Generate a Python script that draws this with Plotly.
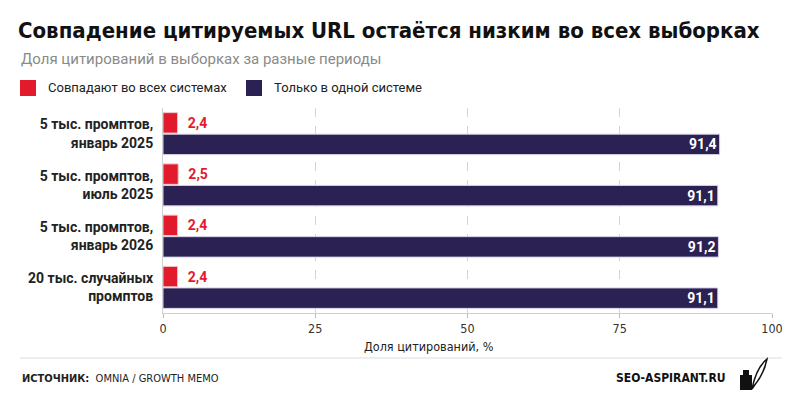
import plotly.graph_objects as go

# data
categories = ["5 тыс. промптов,<br>январь 2025", "5 тыс. промптов,<br>июль 2025",
              "5 тыс. промптов,<br>январь 2026", "20 тыс. случайных<br>промптов"]
match_all = [2.4, 2.5, 2.4, 2.4]
only_one = [91.4, 91.1, 91.2, 91.1]
series_names = ["Совпадают во всех системах", "Только в одной системе"]
x_ticks = [0, 25, 50, 75, 100]

RED = "#e21b2c"
NAVY = "#2b2152"
W, H = 800, 400
ML, MR, MT, MB = 163, 28, 108, 87
PW, PH = W - ML - MR, H - MT - MB
NARROW = "DejaVu Sans Condensed"
BASE = "Roboto"


def px(x):
    return (x - ML) / PW


def py(y):
    return 1 - (y - MT) / PH


def fmt(v):
    return f"{v:.1f}".replace(".", ",")


fig = go.Figure()

fig.add_trace(go.Bar(
    y=categories, x=match_all, orientation="h", name=series_names[0],
    marker=dict(color=RED, line=dict(color="#f3c9cc", width=1)),
    text=[fmt(v) for v in match_all], texttemplate="\u2002%{text}", textposition="outside",
    textfont=dict(color=RED, size=14, family=BASE, weight="bold"),
    cliponaxis=False, constraintext="none", showlegend=False,
))
fig.add_trace(go.Bar(
    y=categories, x=only_one, orientation="h", name=series_names[1],
    marker=dict(color=NAVY, line=dict(color="#d6d2e8", width=1)),
    text=[fmt(v) for v in only_one], textposition="inside", insidetextanchor="end",
    textfont=dict(color="white", size=14, family=BASE, weight="bold"),
    constraintext="none", showlegend=False,
))

shapes = []
annotations = []

# legend drawn by hand
legend_items = [(20, RED, series_names[0]), (246, NAVY, series_names[1])]
for lx, col, name in legend_items:
    shapes.append(dict(type="rect", xref="paper", yref="paper",
                       x0=px(lx), x1=px(lx + 16), y0=py(96), y1=py(80),
                       fillcolor=col, line=dict(width=0)))
    annotations.append(dict(text=name, xref="paper", yref="paper",
                            x=px(lx + 26), y=py(88), xanchor="left", yanchor="middle",
                            showarrow=False, font=dict(size=13, family=BASE, color="#222")))

# title and subtitle
annotations.append(dict(text="<b>Совпадение цитируемых URL остаётся низким во всех выборках</b>",
                        xref="paper", yref="paper", x=px(16), y=py(30),
                        xanchor="left", yanchor="middle", showarrow=False,
                        font=dict(size=22, family=NARROW, color="#111")))
annotations.append(dict(text="Доля цитирований в выборках за разные периоды",
                        xref="paper", yref="paper", x=px(19), y=py(59),
                        xanchor="left", yanchor="middle", showarrow=False,
                        font=dict(size=15, family=BASE, color="#8a8a8a")))

# axis title
annotations.append(dict(text="Доля цитирований, %", xref="paper", yref="paper",
                        x=px(429), y=py(346), xanchor="center", yanchor="middle",
                        showarrow=False, font=dict(size=12.5, family=NARROW, color="#222")))

# footer
shapes.append(dict(type="line", xref="paper", yref="paper",
                   x0=px(20), x1=px(782), y0=py(358), y1=py(358),
                   line=dict(color="#dddddd", width=1)))
annotations.append(dict(text="<b>ИСТОЧНИК:</b>  OMNIA / GROWTH MEMO",
                        xref="paper", yref="paper", x=px(20), y=py(378),
                        xanchor="left", yanchor="middle", showarrow=False,
                        font=dict(size=11, family=NARROW, color="#222")))
annotations.append(dict(text="<b>SEO-ASPIRANT.RU</b>",
                        xref="paper", yref="paper", x=px(728), y=py(378),
                        xanchor="right", yanchor="middle", showarrow=False,
                        font=dict(size=12, family=NARROW, color="#111")))
# ink bottle + quill
shapes.append(dict(type="rect", xref="paper", yref="paper",
                   x0=px(740), x1=px(752), y0=py(390), y1=py(375),
                   fillcolor="#111", line=dict(width=0)))
shapes.append(dict(type="rect", xref="paper", yref="paper",
                   x0=px(743), x1=px(749), y0=py(375), y1=py(370),
                   fillcolor="#111", line=dict(width=0)))
shapes.append(dict(type="path", xref="paper", yref="paper",
                   path=f"M {px(752)} {py(389)} Q {px(756)} {py(368)} {px(767)} {py(359)} "
                        f"Q {px(764)} {py(374)} {px(754)} {py(386)} Z",
                   fillcolor="white", line=dict(color="#111", width=1.5)))

fig.update_layout(
    width=W, height=H,
    margin=dict(l=ML, r=MR, t=MT, b=MB, pad=0),
    paper_bgcolor="white", plot_bgcolor="white",
    barmode="group", bargap=0.16, bargroupgap=0.05,
    shapes=shapes, annotations=annotations,
    font=dict(family=BASE, color="#222"),
    xaxis=dict(
        range=[0, 100], tickvals=x_ticks, ticktext=[str(t) for t in x_ticks],
        showgrid=True, gridcolor="#d5d5d5", griddash="dash", gridwidth=1,
        showline=True, linecolor="#cfcfcf", ticks="outside", ticklen=4,
        tickcolor="#bbbbbb", zeroline=False, ticklabelstandoff=0,
        tickfont=dict(size=12.5, family=NARROW, color="#333"),
    ),
    yaxis=dict(
        autorange="reversed", showgrid=False, showline=True, linecolor="#d0d0d0",
        tickfont=dict(size=14, family=BASE, color="#222", weight="bold"),
        ticks="", ticklabelstandoff=6,
    ),
)

# page without the default body margin so the figure sits at the window corner
fig.write_html("out.html", config={"displayModeBar": False},
               post_script="document.body.style.margin='0';")
